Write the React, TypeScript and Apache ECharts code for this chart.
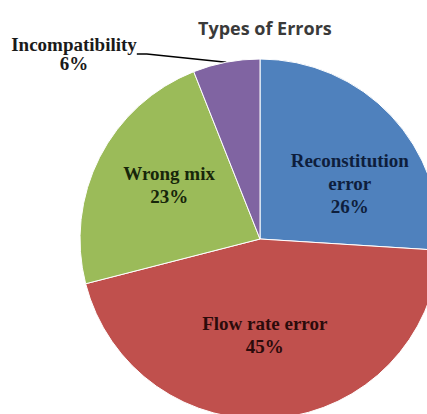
import React, { useEffect, useRef } from "react";
import * as echarts from "echarts";

const categories = ["Reconstitution error", "Flow rate error", "Wrong mix", "Incompatibility"];
const labelNames = ["Reconstitution\nerror", "Flow rate error", "Wrong mix", "Incompatibility"];
const values = [26, 45, 23, 6];
const sliceColors = ["#4f81bd", "#c0504d", "#9bbb59", "#8064a2"];
const labelColors = ["#0e1e3c", "#2b0b0b", "#17260a", "#1a1a1a"];
const labelShifts = [
  [22, 8],
  [-4, 3],
  [-8, -12],
];

export default function App() {
  const ref = useRef<HTMLDivElement>(null);
  useEffect(() => {
    if (!ref.current) return;
    const chart = echarts.init(ref.current, undefined, { renderer: "svg" });
    const data = categories.map((name, i) => ({
      name,
      value: values[i],
      itemStyle: { color: sliceColors[i] },
      label:
        i === 3
          ? { position: "outside", color: labelColors[i], lineHeight: 19 }
          : { position: "inside", color: labelColors[i] },
      labelLine: { show: i === 3 },
    }));
    chart.setOption({
      animation: false,
      backgroundColor: "#ffffff",
      title: {
        text: "Types of Errors",
        left: 193,
        top: 14,
        textStyle: {
          fontFamily: "Open Sans",
          fontWeight: "bold",
          fontSize: 18,
          color: "#3a3a3a",
        },
      },
      series: [
        {
          type: "pie",
          center: [260, 239],
          radius: 180,
          startAngle: 90,
          clockwise: true,
          avoidLabelOverlap: false,
          itemStyle: { borderColor: "#ffffff", borderWidth: 1 },
          label: {
            show: true,
            fontFamily: "Liberation Serif",
            fontWeight: "bold",
            fontSize: 19,
            lineHeight: 23,
            align: "center",
            formatter: (p: any) => `${labelNames[p.dataIndex]}\n${p.value}%`,
          },
          labelLine: {
            show: false,
            length: 10,
            length2: 10,
            lineStyle: { color: "#000000", width: 1.5 },
          },
          labelLayout: (p: any) => {
            if (p.dataIndex === 3) {
              return { x: 74, y: 54, align: "center", verticalAlign: "middle" };
            }
            const s = labelShifts[p.dataIndex];
            return { dx: s[0], dy: s[1] };
          },
          emphasis: { disabled: true },
          data,
        },
      ],
    });
    return () => chart.dispose();
  }, []);
  return (
    <div
      ref={ref}
      style={{ position: "fixed", left: 0, top: 0, width: 427, height: 414, background: "#fff" }}
    />
  );
}
